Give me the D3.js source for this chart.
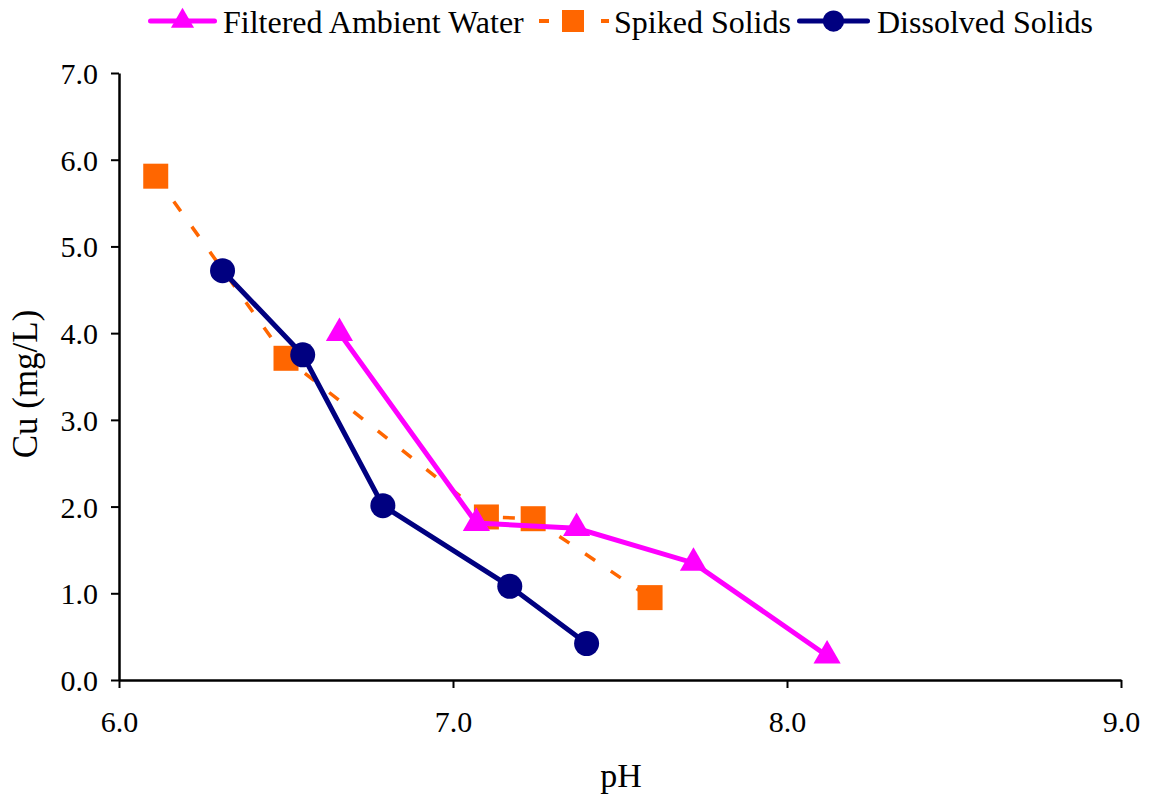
<!DOCTYPE html>
<html><head><meta charset="utf-8">
<script src="https://cdn.jsdelivr.net/npm/d3@7"></script>
<style>body{margin:0;background:#fff}svg{display:block}</style>
</head><body>
<svg id="c" width="1150" height="795"></svg>
<script>
const seriesNames = ["Filtered Ambient Water", "Spiked Solids", "Dissolved Solids"];
const filteredPH = [6.66, 7.07, 7.37, 7.72, 8.12];
const filteredCu = [4.00, 1.81, 1.75, 1.35, 0.28];
const spikedPH = [6.11, 6.50, 7.10, 7.24, 7.59];
const spikedCu = [5.81, 3.71, 1.88, 1.86, 0.95];
const dissolvedPH = [6.31, 6.55, 6.79, 7.17, 7.40];
const dissolvedCu = [4.72, 3.75, 2.01, 1.08, 0.42];
const xTicks = [6.0, 7.0, 8.0, 9.0];
const yTicks = [0, 1, 2, 3, 4, 5, 6, 7];

const svg = d3.select("#c");
const font = "'Liberation Serif','Times New Roman',serif";
const x = d3.scaleLinear().domain([6, 9]).range([119, 1121]);
const y = d3.scaleLinear().domain([0, 7]).range([680, 73]);

const series = [
  {name: seriesNames[0], xs: filteredPH, ys: filteredCu, color: "#FF00FF", marker: "tri", dash: null, width: 5},
  {name: seriesNames[1], xs: spikedPH, ys: spikedCu, color: "#FF6600", marker: "sq", dash: "12,19", width: 3.5},
  {name: seriesNames[2], xs: dissolvedPH, ys: dissolvedCu, color: "#000080", marker: "circ", dash: null, width: 5}
];

// axes
const xAxis = d3.axisBottom(x).tickValues(xTicks).tickFormat(d3.format(".1f")).tickSize(8).tickSizeOuter(0);
const yAxis = d3.axisLeft(y).tickValues(yTicks).tickFormat(d3.format(".1f")).tickSize(8).tickSizeOuter(0);
const gx = svg.append("g").attr("transform", "translate(0,680)").call(xAxis);
const gy = svg.append("g").attr("transform", "translate(119,0)").call(yAxis);
[gx, gy].forEach(g => {
  g.select(".domain").attr("stroke", "#000").attr("stroke-width", 2.5);
  g.selectAll(".tick line").attr("stroke", "#000").attr("stroke-width", 2);
  g.selectAll(".tick text").attr("fill", "#000").style("font-family", font).style("font-size", "30px");
});
gx.selectAll(".tick text").attr("dy", "0").attr("y", 52);
gy.selectAll(".tick text").attr("x", -21).attr("dy", "0.35em");

// axis titles
svg.append("text").attr("x", 621).attr("y", 787).attr("text-anchor", "middle")
  .style("font-family", font).style("font-size", "34px").text("pH");
svg.append("text").attr("transform", "translate(37,384) rotate(-90)").attr("text-anchor", "middle")
  .style("font-family", font).style("font-size", "35px").text("Cu (mg/L)");

function drawMarker(g, type, cx, cy, color, s) {
  s = s || 1;
  if (type === "tri") {
    g.append("path").attr("d", d3.symbol().type(d3.symbolTriangle).size(320 * s * s)())
      .attr("transform", `translate(${cx},${cy})`).attr("fill", color);
  } else if (type === "sq") {
    g.append("rect").attr("x", cx - 12.5 * s).attr("y", cy - 12.5 * s).attr("width", 25 * s).attr("height", 25 * s).attr("fill", color);
  } else {
    g.append("circle").attr("cx", cx).attr("cy", cy).attr("r", 12.5 * s).attr("fill", color);
  }
}

const line = d3.line().x(d => x(d[0])).y(d => y(d[1]));
const plot = svg.append("g");
const order = [1, 2, 0];
order.forEach(i => {
  const s = series[i];
  const pts = s.xs.map((v, j) => [v, s.ys[j]]);
  const g = plot.append("g");
  g.append("path").attr("d", line(pts)).attr("fill", "none").attr("stroke", s.color)
    .attr("stroke-width", s.width).attr("stroke-dasharray", s.dash);
  pts.forEach(p => drawMarker(g, s.marker, x(p[0]), y(p[1]), s.color));
});

// legend
const ly = 21;
const lg = svg.append("g");
const legendItems = [
  {s: series[0], x0: 148, x1: 217, tx: 223},
  {s: series[1], x0: 539, x1: 609, tx: 614},
  {s: series[2], x0: 797, x1: 870, tx: 877}
];
legendItems.forEach(it => {
  if (it.s.marker === "sq") {
    lg.append("line").attr("x1", it.x0).attr("x2", it.x0 + 10).attr("y1", ly).attr("y2", ly).attr("stroke", it.s.color).attr("stroke-width", 4);
    lg.append("line").attr("x1", it.x1 - 8).attr("x2", it.x1).attr("y1", ly).attr("y2", ly).attr("stroke", it.s.color).attr("stroke-width", 4);
    drawMarker(lg, "sq", 573, ly, it.s.color, 0.88);
  } else {
    lg.append("line").attr("x1", it.x0 + 2.5).attr("x2", it.x1 - 2.5).attr("y1", ly).attr("y2", ly)
      .attr("stroke", it.s.color).attr("stroke-width", 5).attr("stroke-linecap", "round");
    drawMarker(lg, it.s.marker, (it.x0 + it.x1) / 2, ly, it.s.color, 0.85);
  }
  lg.append("text").attr("x", it.tx).attr("y", 33)
    .style("font-family", font).style("font-size", "32px").text(it.s.name);
});
</script>
</body></html>
